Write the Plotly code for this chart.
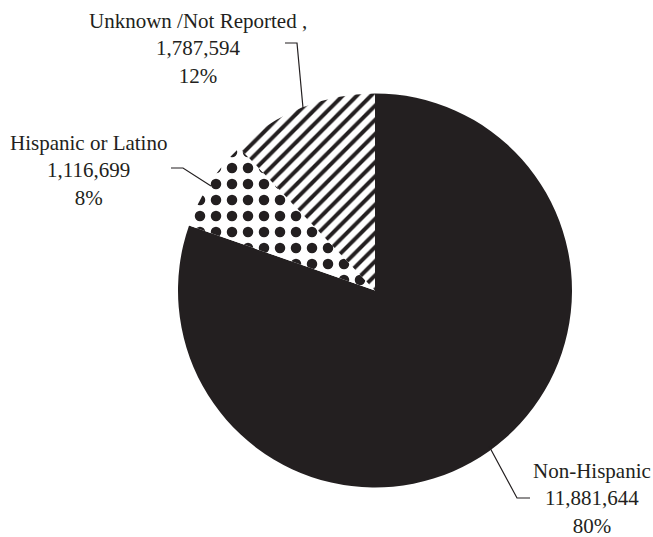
import plotly.graph_objects as go

categories = ["Non-Hispanic", "Hispanic or Latino", "Unknown /Not Reported ,"]
values = [11881644, 1116699, 1787594]
percent_labels = ["80%", "8%", "12%"]

W, H = 653, 537
INK = "#231f20"

def px(x):
    return x / W

def py(y):
    return 1 - y / H

fig = go.Figure(go.Pie(
    labels=categories,
    values=values,
    sort=False,
    direction="clockwise",
    rotation=0,
    textinfo="none",
    hoverinfo="label+value+percent",
    marker=dict(
        colors=[INK, "white", "white"],
        line=dict(width=0),
        pattern=dict(
            shape=["", ".", "/"],
            fgcolor=INK,
            bgcolor="white",
            size=[8, 16, 10],
            solidity=[0.3, 0.34, 0.4],
            fillmode="replace",
        ),
    ),
    domain=dict(x=[px(178), px(572)], y=[py(488), py(93)]),
    showlegend=False,
))

label_pos = [(592, 498), (88, 170), (198, 48)]
for cat, val, pct, (x, y) in zip(categories, values, percent_labels, label_pos):
    fig.add_annotation(
        x=px(x), y=py(y), xref="paper", yref="paper",
        text=f"{cat}<br>{val:,}<br>{pct}",
        showarrow=False, xanchor="center", yanchor="middle",
        font=dict(family="Liberation Serif, Times New Roman, serif", size=21, color=INK),
    )

leaders = [
    [(530, 498), (517, 498), (489, 446)],
    [(171, 168), (183, 168), (211, 186)],
    [(285, 43), (297, 43), (303, 108)],
]
for pts in leaders:
    path = "M " + " L ".join(f"{px(a)},{py(b)}" for a, b in pts)
    fig.add_shape(type="path", path=path, xref="paper", yref="paper",
                  line=dict(color=INK, width=1.2))

fig.update_layout(
    width=W, height=H,
    margin=dict(l=0, r=0, t=0, b=0),
    paper_bgcolor="white", plot_bgcolor="white",
)

fig.write_html(
    "out.html",
    config={"displayModeBar": False},
    post_script="document.body.style.margin='0';document.body.style.overflow='hidden';",
)
